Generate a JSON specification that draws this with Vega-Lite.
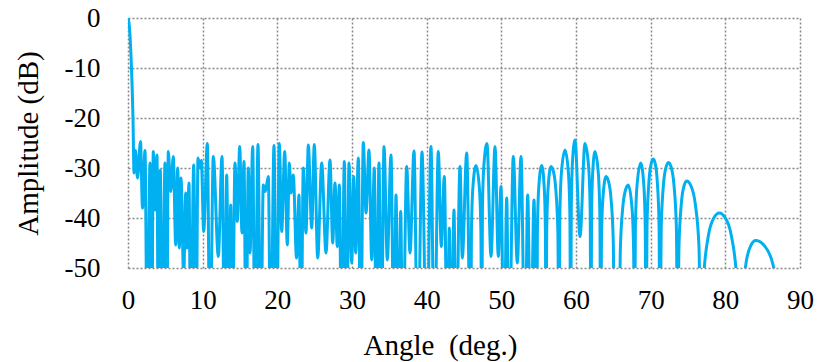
{
  "$schema": "https://vega.github.io/schema/vega-lite/v6.json",
  "width": 672,
  "height": 250,
  "autosize": {"type": "none"},
  "padding": {"left": 128, "top": 18, "right": 17, "bottom": 94},
  "background": "white",
  "config": {
    "view": {"stroke": null},
    "font": "Liberation Serif",
    "axis": {
      "labelFont": "Liberation Serif",
      "titleFont": "Liberation Serif",
      "labelColor": "#000000",
      "titleColor": "#000000",
      "labelFontSize": 27,
      "titleFontSize": 29,
      "titleFontWeight": "normal",
      "domain": false,
      "ticks": false,
      "tickSize": 0,
      "grid": true,
      "gridColor": "#888888",
      "gridDash": [2, 2],
      "gridWidth": 1.5,
      "labelExpr": "'' + datum.value"
    }
  },
  "data": {
    "values": [
      {"angle": 0.000, "amp": 0},
      {"angle": 0.134, "amp": -1},
      {"angle": 0.268, "amp": -3.5},
      {"angle": 0.402, "amp": -7.5},
      {"angle": 0.536, "amp": -13},
      {"angle": 0.670, "amp": -20},
      {"angle": 0.804, "amp": -31},
      {"angle": 1.004, "amp": -26.5},
      {"angle": 1.272, "amp": -32},
      {"angle": 1.674, "amp": -24.7},
      {"angle": 1.942, "amp": -38},
      {"angle": 2.277, "amp": -26.5},
      {"angle": 2.585, "amp": -70},
      {"angle": 2.946, "amp": -29},
      {"angle": 3.174, "amp": -70},
      {"angle": 3.388, "amp": -26.7},
      {"angle": 3.616, "amp": -38.4},
      {"angle": 3.884, "amp": -27.4},
      {"angle": 4.058, "amp": -70},
      {"angle": 4.326, "amp": -30.4},
      {"angle": 4.594, "amp": -70},
      {"angle": 4.955, "amp": -29},
      {"angle": 5.183, "amp": -70},
      {"angle": 5.397, "amp": -26.7},
      {"angle": 5.719, "amp": -34.7},
      {"angle": 6.067, "amp": -27.7},
      {"angle": 6.388, "amp": -45.4},
      {"angle": 6.656, "amp": -30},
      {"angle": 6.871, "amp": -46},
      {"angle": 7.098, "amp": -32},
      {"angle": 7.460, "amp": -52},
      {"angle": 7.728, "amp": -35},
      {"angle": 7.902, "amp": -46},
      {"angle": 8.170, "amp": -33},
      {"angle": 8.397, "amp": -70},
      {"angle": 8.799, "amp": -29.4},
      {"angle": 9.107, "amp": -70},
      {"angle": 9.375, "amp": -28},
      {"angle": 9.643, "amp": -30},
      {"angle": 9.817, "amp": -28.5},
      {"angle": 10.138, "amp": -42.7},
      {"angle": 10.621, "amp": -25.1},
      {"angle": 10.982, "amp": -70},
      {"angle": 11.424, "amp": -27.7},
      {"angle": 12.094, "amp": -47.7},
      {"angle": 12.589, "amp": -27.7},
      {"angle": 12.951, "amp": -70},
      {"angle": 13.219, "amp": -31.4},
      {"angle": 13.527, "amp": -70},
      {"angle": 13.755, "amp": -37.4},
      {"angle": 13.969, "amp": -70},
      {"angle": 14.330, "amp": -29},
      {"angle": 14.638, "amp": -40.7},
      {"angle": 14.960, "amp": -25.7},
      {"angle": 15.268, "amp": -43},
      {"angle": 15.536, "amp": -28.7},
      {"angle": 15.804, "amp": -70},
      {"angle": 16.112, "amp": -30},
      {"angle": 16.339, "amp": -47},
      {"angle": 16.701, "amp": -25.7},
      {"angle": 17.009, "amp": -70},
      {"angle": 17.411, "amp": -25.3},
      {"angle": 17.772, "amp": -70},
      {"angle": 18.121, "amp": -33.4},
      {"angle": 18.388, "amp": -34.7},
      {"angle": 18.790, "amp": -31.7},
      {"angle": 19.112, "amp": -70},
      {"angle": 19.554, "amp": -25.5},
      {"angle": 19.888, "amp": -70},
      {"angle": 20.264, "amp": -25.1},
      {"angle": 20.585, "amp": -42.7},
      {"angle": 20.987, "amp": -26.7},
      {"angle": 21.335, "amp": -45.4},
      {"angle": 21.603, "amp": -29},
      {"angle": 21.830, "amp": -35},
      {"angle": 22.138, "amp": -31.4},
      {"angle": 22.567, "amp": -48},
      {"angle": 22.902, "amp": -35.4},
      {"angle": 23.170, "amp": -70},
      {"angle": 23.478, "amp": -30},
      {"angle": 23.839, "amp": -43},
      {"angle": 24.147, "amp": -25.4},
      {"angle": 24.603, "amp": -42},
      {"angle": 24.951, "amp": -25.3},
      {"angle": 25.406, "amp": -48},
      {"angle": 25.942, "amp": -29},
      {"angle": 26.518, "amp": -47},
      {"angle": 27.054, "amp": -28.4},
      {"angle": 27.415, "amp": -45},
      {"angle": 27.723, "amp": -33},
      {"angle": 28.031, "amp": -45.7},
      {"angle": 28.299, "amp": -33.4},
      {"angle": 28.621, "amp": -70},
      {"angle": 28.969, "amp": -28.7},
      {"angle": 29.290, "amp": -70},
      {"angle": 29.598, "amp": -29},
      {"angle": 29.960, "amp": -49},
      {"angle": 30.228, "amp": -31.7},
      {"angle": 30.496, "amp": -47},
      {"angle": 30.844, "amp": -28},
      {"angle": 31.165, "amp": -70},
      {"angle": 31.513, "amp": -24.9},
      {"angle": 31.875, "amp": -39},
      {"angle": 32.277, "amp": -26.4},
      {"angle": 32.638, "amp": -48.4},
      {"angle": 32.987, "amp": -30},
      {"angle": 33.254, "amp": -70},
      {"angle": 33.616, "amp": -29},
      {"angle": 33.924, "amp": -70},
      {"angle": 34.286, "amp": -25.7},
      {"angle": 34.728, "amp": -48.4},
      {"angle": 35.223, "amp": -27.4},
      {"angle": 35.625, "amp": -70},
      {"angle": 35.893, "amp": -35.4},
      {"angle": 36.201, "amp": -70},
      {"angle": 36.522, "amp": -38.7},
      {"angle": 36.790, "amp": -70},
      {"angle": 37.326, "amp": -29.7},
      {"angle": 37.768, "amp": -47},
      {"angle": 38.304, "amp": -26.6},
      {"angle": 38.799, "amp": -70},
      {"angle": 39.375, "amp": -26.8},
      {"angle": 40.004, "amp": -70},
      {"angle": 40.580, "amp": -25.7},
      {"angle": 41.022, "amp": -70},
      {"angle": 41.558, "amp": -26.7},
      {"angle": 41.960, "amp": -45.7},
      {"angle": 42.362, "amp": -31.7},
      {"angle": 42.764, "amp": -70},
      {"angle": 43.032, "amp": -42},
      {"angle": 43.300, "amp": -70},
      {"angle": 43.661, "amp": -38.4},
      {"angle": 43.929, "amp": -70},
      {"angle": 44.464, "amp": -29.7},
      {"angle": 44.772, "amp": -48},
      {"angle": 45.362, "amp": -27},
      {"angle": 45.897, "amp": -70},
      {"angle": 45.996, "amp": -42.7},
      {"angle": 46.181, "amp": -34.1},
      {"angle": 46.607, "amp": -29.5},
      {"angle": 47.065, "amp": -34.1},
      {"angle": 47.263, "amp": -42.7},
      {"angle": 47.370, "amp": -70},
      {"angle": 47.469, "amp": -38.3},
      {"angle": 47.654, "amp": -29.7},
      {"angle": 48.080, "amp": -25.1},
      {"angle": 48.616, "amp": -47.7},
      {"angle": 49.152, "amp": -25.7},
      {"angle": 49.594, "amp": -47.7},
      {"angle": 49.955, "amp": -33.7},
      {"angle": 50.357, "amp": -70},
      {"angle": 50.719, "amp": -36},
      {"angle": 51.027, "amp": -70},
      {"angle": 51.603, "amp": -27.7},
      {"angle": 52.138, "amp": -49},
      {"angle": 52.634, "amp": -27.7},
      {"angle": 53.170, "amp": -70},
      {"angle": 53.531, "amp": -35.4},
      {"angle": 53.933, "amp": -70},
      {"angle": 54.375, "amp": -36.4},
      {"angle": 54.737, "amp": -70},
      {"angle": 54.830, "amp": -42.7},
      {"angle": 55.004, "amp": -34.1},
      {"angle": 55.406, "amp": -29.5},
      {"angle": 55.752, "amp": -34.1},
      {"angle": 55.902, "amp": -42.7},
      {"angle": 55.982, "amp": -70},
      {"angle": 56.076, "amp": -42.9},
      {"angle": 56.250, "amp": -34.3},
      {"angle": 56.652, "amp": -29.7},
      {"angle": 56.973, "amp": -30.7},
      {"angle": 57.295, "amp": -34.3},
      {"angle": 57.573, "amp": -42.9},
      {"angle": 57.723, "amp": -70},
      {"angle": 57.836, "amp": -39.6},
      {"angle": 58.045, "amp": -31},
      {"angle": 58.527, "amp": -26.4},
      {"angle": 58.985, "amp": -31},
      {"angle": 59.183, "amp": -39.6},
      {"angle": 59.290, "amp": -70},
      {"angle": 59.371, "amp": -37.6},
      {"angle": 59.521, "amp": -29},
      {"angle": 59.866, "amp": -24.4},
      {"angle": 60.536, "amp": -43.7},
      {"angle": 61.205, "amp": -25.1},
      {"angle": 61.688, "amp": -29.7},
      {"angle": 61.896, "amp": -38.3},
      {"angle": 62.009, "amp": -70},
      {"angle": 62.084, "amp": -39.9},
      {"angle": 62.223, "amp": -31.3},
      {"angle": 62.545, "amp": -26.7},
      {"angle": 63.003, "amp": -31.3},
      {"angle": 63.201, "amp": -39.9},
      {"angle": 63.308, "amp": -70},
      {"angle": 63.407, "amp": -44.9},
      {"angle": 63.592, "amp": -36.3},
      {"angle": 64.018, "amp": -31.7},
      {"angle": 64.359, "amp": -32.7},
      {"angle": 64.701, "amp": -36.3},
      {"angle": 64.996, "amp": -44.9},
      {"angle": 65.156, "amp": -70},
      {"angle": 65.759, "amp": -70},
      {"angle": 65.933, "amp": -46.6},
      {"angle": 66.257, "amp": -38},
      {"angle": 66.629, "amp": -34.4},
      {"angle": 67.004, "amp": -33.4},
      {"angle": 67.503, "amp": -38},
      {"angle": 67.718, "amp": -46.6},
      {"angle": 67.835, "amp": -70},
      {"angle": 67.951, "amp": -42.2},
      {"angle": 68.167, "amp": -33.6},
      {"angle": 68.665, "amp": -29},
      {"angle": 69.091, "amp": -33.6},
      {"angle": 69.276, "amp": -42.2},
      {"angle": 69.375, "amp": -70},
      {"angle": 69.512, "amp": -41.4},
      {"angle": 69.766, "amp": -32.8},
      {"angle": 70.058, "amp": -29.2},
      {"angle": 70.353, "amp": -28.2},
      {"angle": 70.622, "amp": -29.2},
      {"angle": 70.891, "amp": -32.8},
      {"angle": 71.124, "amp": -41.4},
      {"angle": 71.250, "amp": -70},
      {"angle": 71.410, "amp": -42.1},
      {"angle": 71.705, "amp": -33.5},
      {"angle": 72.047, "amp": -29.9},
      {"angle": 72.388, "amp": -28.9},
      {"angle": 72.758, "amp": -29.9},
      {"angle": 73.127, "amp": -33.5},
      {"angle": 73.447, "amp": -42.1},
      {"angle": 73.620, "amp": -70},
      {"angle": 73.789, "amp": -45.8},
      {"angle": 74.102, "amp": -37.2},
      {"angle": 74.464, "amp": -33.6},
      {"angle": 74.826, "amp": -32.6},
      {"angle": 75.402, "amp": -33.6},
      {"angle": 75.975, "amp": -37.2},
      {"angle": 76.473, "amp": -45.8},
      {"angle": 76.741, "amp": -70},
      {"angle": 77.084, "amp": -52.2},
      {"angle": 77.722, "amp": -43.6},
      {"angle": 78.457, "amp": -40},
      {"angle": 79.192, "amp": -39},
      {"angle": 80.004, "amp": -40},
      {"angle": 80.815, "amp": -43.6},
      {"angle": 81.518, "amp": -52.2},
      {"angle": 81.897, "amp": -70},
      {"angle": 82.201, "amp": -57.7},
      {"angle": 82.765, "amp": -49.1},
      {"angle": 83.416, "amp": -45.5},
      {"angle": 84.067, "amp": -44.5},
      {"angle": 85.205, "amp": -45.5},
      {"angle": 86.341, "amp": -49.1},
      {"angle": 87.321, "amp": -57.7},
      {"angle": 87.857, "amp": -70}
    ]
  },
  "mark": {
    "type": "line",
    "interpolate": "monotone",
    "clip": true,
    "color": "#00b0f0",
    "strokeWidth": 3,
    "strokeJoin": "round",
    "strokeCap": "round"
  },
  "encoding": {
    "x": {
      "field": "angle",
      "type": "quantitative",
      "scale": {"domain": [0, 90], "nice": false, "zero": false},
      "axis": {
        "values": [0, 10, 20, 30, 40, 50, 60, 70, 80, 90],
        "title": "Angle\u00a0 (deg.)",
        "labelPadding": 32,
        "labelBaseline": "middle",
        "labelFlush": false,
        "titleX": 312,
        "titleY": 77,
        "titleBaseline": "middle",
        "titleAlign": "center"
      }
    },
    "y": {
      "field": "amp",
      "type": "quantitative",
      "scale": {"domain": [-50, 0], "nice": false, "zero": false},
      "axis": {
        "values": [-50, -40, -30, -20, -10, 0],
        "title": "Amplitude (dB)",
        "labelPadding": 28,
        "labelFlush": false,
        "titleAngle": -90,
        "titleX": -100,
        "titleY": 125,
        "titleBaseline": "middle",
        "titleAlign": "center"
      }
    }
  }
}
